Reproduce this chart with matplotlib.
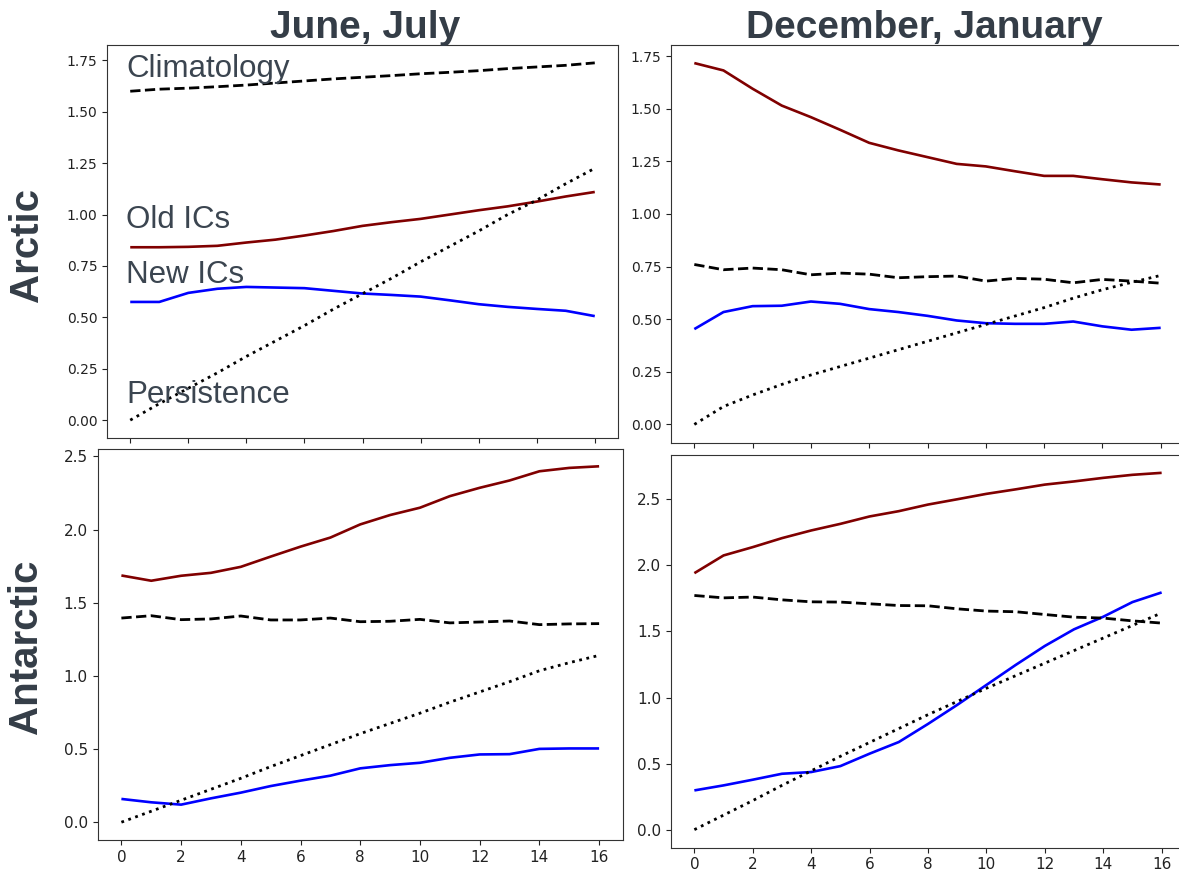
import matplotlib
matplotlib.use("Agg")
import matplotlib.pyplot as plt

W, H = 1179, 873

lead = list(range(17))
xticks = list(range(0, 17, 2))

# Arctic, June-July
arc_jj_clim = [1.600, 1.610, 1.615, 1.622, 1.630, 1.640, 1.650, 1.660, 1.668, 1.676,
               1.685, 1.692, 1.700, 1.710, 1.718, 1.726, 1.738]
arc_jj_old = [0.841, 0.841, 0.843, 0.848, 0.864, 0.878, 0.898, 0.920, 0.945, 0.963,
              0.979, 1.000, 1.021, 1.040, 1.063, 1.088, 1.110]
arc_jj_new = [0.575, 0.575, 0.619, 0.639, 0.648, 0.645, 0.642, 0.629, 0.616, 0.609,
              0.601, 0.583, 0.564, 0.551, 0.541, 0.532, 0.506]
arc_jj_pers = [0.000, 0.080, 0.155, 0.230, 0.310, 0.385, 0.460, 0.540, 0.615, 0.690,
               0.770, 0.845, 0.920, 1.000, 1.070, 1.150, 1.225]

# Arctic, December-January
arc_dj_clim = [0.760, 0.735, 0.743, 0.735, 0.711, 0.719, 0.714, 0.697, 0.702, 0.705,
               0.681, 0.694, 0.690, 0.673, 0.689, 0.681, 0.671]
arc_dj_old = [1.717, 1.682, 1.595, 1.515, 1.460, 1.400, 1.338, 1.302, 1.270, 1.238,
              1.226, 1.203, 1.181, 1.181, 1.165, 1.150, 1.140]
arc_dj_new = [0.453, 0.534, 0.562, 0.564, 0.584, 0.573, 0.548, 0.534, 0.516, 0.494,
              0.481, 0.478, 0.478, 0.489, 0.466, 0.450, 0.459]
arc_dj_pers = [0.000, 0.085, 0.140, 0.190, 0.235, 0.275, 0.315, 0.355, 0.395, 0.435,
               0.475, 0.515, 0.555, 0.600, 0.640, 0.675, 0.708]

# Antarctic, June-July
ant_jj_clim = [1.395, 1.411, 1.384, 1.389, 1.409, 1.382, 1.382, 1.395, 1.370, 1.373,
               1.386, 1.362, 1.368, 1.375, 1.350, 1.355, 1.357]
ant_jj_old = [1.686, 1.650, 1.684, 1.704, 1.745, 1.815, 1.883, 1.945, 2.035, 2.099,
              2.149, 2.228, 2.285, 2.335, 2.398, 2.421, 2.432]
ant_jj_new = [0.159, 0.136, 0.120, 0.163, 0.202, 0.247, 0.284, 0.318, 0.368, 0.390,
              0.406, 0.440, 0.463, 0.465, 0.501, 0.504, 0.504]
ant_jj_pers = [0.000, 0.075, 0.150, 0.225, 0.300, 0.380, 0.455, 0.530, 0.605, 0.675,
               0.745, 0.820, 0.890, 0.960, 1.035, 1.090, 1.140]

# Antarctic, December-January
ant_dj_clim = [1.772, 1.754, 1.760, 1.739, 1.724, 1.722, 1.709, 1.696, 1.694, 1.671,
               1.654, 1.649, 1.628, 1.608, 1.601, 1.580, 1.563]
ant_dj_old = [1.941, 2.075, 2.138, 2.206, 2.264, 2.314, 2.370, 2.410, 2.460, 2.500,
              2.541, 2.575, 2.611, 2.635, 2.662, 2.685, 2.700]
ant_dj_new = [0.297, 0.335, 0.378, 0.423, 0.436, 0.481, 0.575, 0.663, 0.800, 0.944,
              1.095, 1.246, 1.390, 1.516, 1.611, 1.722, 1.795]
ant_dj_pers = [0.000, 0.110, 0.220, 0.335, 0.445, 0.555, 0.660, 0.765, 0.870, 0.970,
               1.070, 1.165, 1.260, 1.355, 1.450, 1.545, 1.640]

col_titles = ["June, July", "December, January"]
row_titles = ["Arctic", "Antarctic"]
series_names = ["Climatology", "Old ICs", "New ICs", "Persistence"]

OLD_COLOR = "#800000"
NEW_COLOR = "#0000ff"
TEXT_COLOR = "#343d47"
ANNOT_COLOR = "#3b4550"
SANS = ["Liberation Sans", "DejaVu Sans"]

fig = plt.figure(figsize=(W / 100, H / 100), dpi=100)
fig.patch.set_facecolor("white")


def add_panel(left, right, top, bottom):
    return fig.add_axes([left / W, 1 - bottom / H, (right - left) / W, (bottom - top) / H])


def draw(ax, clim, old, new, pers, tick_size, show_x):
    ax.plot(lead, old, color=OLD_COLOR, lw=1.9, solid_capstyle="butt")
    ax.plot(lead, new, color=NEW_COLOR, lw=1.9, solid_capstyle="butt")
    ax.plot(lead, clim, color="black", lw=2.0, ls="--")
    ax.plot(lead, pers, color="black", lw=2.0, ls=":")
    ax.set_xticks(xticks)
    ax.tick_params(labelsize=tick_size, labelbottom=show_x, colors="#222222")
    for s in ax.spines.values():
        s.set_color("#333333")


ax_tl = add_panel(107, 618, 45, 438)
draw(ax_tl, arc_jj_clim, arc_jj_old, arc_jj_new, arc_jj_pers, 10, False)

ax_tr = add_panel(671, 1184, 45, 442.5)
draw(ax_tr, arc_dj_clim, arc_dj_old, arc_dj_new, arc_dj_pers, 10, False)
ax_tr.spines["right"].set_visible(False)

ax_bl = add_panel(97.5, 623, 448.5, 840)
draw(ax_bl, ant_jj_clim, ant_jj_old, ant_jj_new, ant_jj_pers, 11, True)

ax_br = add_panel(671, 1185, 455, 847.5)
draw(ax_br, ant_dj_clim, ant_dj_old, ant_dj_new, ant_dj_pers, 11, True)
ax_br.spines["right"].set_visible(False)

# Column and row headings
fig.text(365.5 / W, 1 - 38 / H, col_titles[0], ha="center", va="baseline",
         fontsize=28, fontweight="bold", color=TEXT_COLOR, family=SANS)
fig.text(924.5 / W, 1 - 38 / H, col_titles[1], ha="center", va="baseline",
         fontsize=28, fontweight="bold", color=TEXT_COLOR, family=SANS)
fig.text(27 / W, 1 - 245 / H, row_titles[0], ha="center", va="center", rotation=90,
         fontsize=29, fontweight="bold", color=TEXT_COLOR, family=SANS)
fig.text(26 / W, 1 - 647 / H, row_titles[1], ha="center", va="center", rotation=90,
         fontsize=29, fontweight="bold", color=TEXT_COLOR, family=SANS)

# Series labels inside the first panel
label_baselines = [77, 228, 283, 403]
for name, yb in zip(series_names, label_baselines):
    fig.text(126 / W, 1 - yb / H, name, ha="left", va="baseline",
             fontsize=22.5, color=ANNOT_COLOR, family=SANS)

fig.savefig("out.png", dpi=100)
